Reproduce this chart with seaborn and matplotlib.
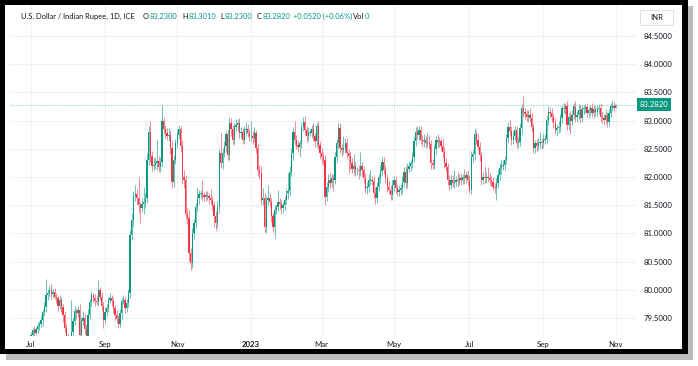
import numpy as np
import pandas as pd
import matplotlib
matplotlib.use("Agg")
import matplotlib.pyplot as plt
import seaborn as sns
from matplotlib.patches import Rectangle
from matplotlib.transforms import blended_transform_factory

# ---------------- data ----------------
start_date = "2022-07-01"
first_open = 79.10
closes = [
    79.20, 79.28, 79.24, 79.30, 79.36, 79.40, 79.46, 79.60, 79.70, 79.90,
    79.95, 80.00, 79.92, 79.96, 79.88, 79.85, 79.72, 79.82, 79.70, 79.55,
    79.32, 79.12, 78.90, 79.05, 79.25, 79.45, 79.62, 79.58, 79.64, 79.20,
    79.45, 79.50, 79.30, 79.10, 79.55, 79.78, 79.90, 79.86, 79.80, 79.78,
    80.00, 79.88, 79.72, 79.47, 79.60, 79.68, 79.82, 79.85, 79.80, 79.67,
    79.56, 79.48, 79.40, 79.58, 79.80, 79.82, 79.67, 79.76, 79.95, 80.98,
    81.24, 81.66, 81.70, 81.62, 81.50, 81.45, 81.52, 81.55, 81.62, 82.30,
    82.80, 82.38, 82.20, 82.22, 82.25, 82.28, 82.17, 82.27, 83.00, 82.85,
    82.78, 82.72, 82.75, 82.51, 81.92, 82.30, 82.60, 82.75, 82.85, 82.55,
    82.00, 81.95, 81.35, 81.27, 80.65, 80.47, 81.00, 81.18, 81.47, 81.62,
    81.70, 81.72, 81.68, 81.65, 81.68, 81.66, 81.62, 81.60, 81.50, 81.30,
    81.18, 81.47, 82.42, 82.24, 82.42, 82.55, 82.77, 82.39, 82.95, 82.85,
    82.66, 82.89, 82.92, 82.95, 82.78, 82.80, 82.66, 82.83, 82.85, 82.78,
    82.72, 82.72, 82.69, 82.78, 82.51, 82.13, 82.07, 81.59, 81.62, 81.12,
    81.59, 81.62, 81.55, 81.30, 81.12, 81.42, 81.47, 81.55, 81.53, 81.45,
    81.50, 81.59, 81.71, 81.75, 82.09, 82.42, 82.80, 82.66, 82.57, 82.54,
    82.60, 82.89, 82.98, 82.83, 82.72, 82.78, 82.78, 82.85, 82.72, 82.63,
    82.90, 82.57, 82.42, 82.36, 82.30, 81.65, 81.83, 81.95, 81.90, 81.98,
    81.95, 82.36, 82.60, 82.86, 82.51, 82.48, 82.52, 82.60, 82.42, 82.38,
    82.24, 82.15, 82.20, 82.12, 82.12, 82.10, 82.20, 82.12, 81.98, 81.80,
    81.83, 81.95, 81.95, 81.93, 81.72, 81.62, 81.83, 82.00, 82.10, 82.27,
    82.13, 81.98, 81.83, 81.77, 81.68, 81.86, 81.95, 81.80, 81.74, 81.77,
    81.80, 81.92, 82.09, 81.89, 82.15, 82.20, 82.24, 82.36, 82.63, 82.80,
    82.75, 82.83, 82.66, 82.63, 82.65, 82.60, 82.62, 82.58, 82.24, 82.22,
    82.50, 82.66, 82.62, 82.63, 82.55, 82.45, 82.24, 82.18, 81.95, 81.86,
    81.95, 81.89, 81.92, 81.95, 81.93, 81.98, 81.95, 82.00, 81.98, 82.04,
    81.95, 81.77, 82.36, 82.40, 82.77, 82.66, 82.54, 82.39, 81.95, 82.00,
    81.98, 82.00, 81.98, 81.95, 81.92, 81.83, 81.80, 81.89, 82.04, 82.16,
    82.20, 82.22, 82.30, 82.69, 82.89, 82.82, 82.66, 82.72, 82.83, 82.60,
    82.62, 82.86, 83.22, 83.15, 83.12, 83.07, 83.10, 83.05, 82.89, 82.51,
    82.60, 82.55, 82.60, 82.62, 82.60, 82.66, 82.68, 83.01, 83.16, 83.14,
    83.07, 82.95, 82.83, 82.86, 82.89, 83.04, 83.22, 83.20, 83.26, 82.92,
    83.07, 83.00, 83.10, 83.25, 83.07, 83.10, 83.19, 83.04, 83.20, 83.22,
    83.24, 83.13, 83.18, 83.22, 83.13, 83.20, 83.16, 83.20, 83.22, 83.07,
    83.04, 83.01, 83.10, 82.98, 83.13, 83.25, 83.26, 83.23, 83.282,
]
# upper / lower wick lengths in hundredths of a rupee
up_wick = [
    6, 5, 8, 4, 7, 5, 9, 6, 8, 29,   6, 7, 10, 5, 8, 6, 4, 9, 6, 5,
    7, 10, 12, 8, 57, 6, 9, 5, 8, 10,   7, 12, 8, 9, 11, 6, 8, 5, 7, 9,
    17, 5, 8, 6, 9, 7, 6, 9, 5, 8,   6, 9, 7, 8, 5, 9, 6, 8, 7, 8,
    12, 10, 15, 8, 38, 6, 10, 28, 9, 12,   10, 20, 8, 12, 10, 38, 9, 8, 28, 7,
    8, 9, 12, 6, 15, 9, 8, 10, 8, 6,   10, 12, 8, 10, 15, 9, 10, 8, 7, 21,
    7, 5, 23, 6, 8, 7, 5, 17, 6, 8,   9, 10, 8, 36, 10, 9, 5, 8, 12, 9,
    8, 6, 10, 7, 9, 8, 6, 8, 12, 9,   7, 28, 9, 10, 6, 8, 9, 12, 18, 10,
    8, 24, 9, 7, 8, 9, 6, 22, 8, 7,   6, 8, 9, 32, 10, 9, 8, 20, 9, 8,
    6, 9, 8, 10, 7, 9, 7, 8, 10, 6,   5, 9, 7, 10, 8, 9, 8, 10, 12, 7,
    8, 9, 8, 10, 9, 7, 20, 10, 9, 8,   7, 9, 20, 8, 6, 9, 25, 7, 8, 9,
    8, 10, 18, 7, 9, 10, 8, 6, 9, 8,   9, 8, 7, 10, 8, 9, 7, 6, 8, 9,
    7, 9, 8, 10, 9, 8, 7, 9, 8, 8,   10, 8, 7, 9, 12, 8, 16, 12, 7, 8,
    9, 7, 10, 8, 6, 12, 8, 9, 7, 8,   9, 8, 21, 7, 14, 8, 9, 6, 14, 7,
    8, 9, 10, 8, 9, 7, 10, 8, 6, 9,   20, 8, 17, 9, 7, 8, 6, 9, 10, 8,
    12, 9, 8, 7, 8, 12, 9, 10, 8, 7,   9, 10, 8, 21, 7, 6, 8, 12, 8, 7,
    6, 8, 9, 18, 8, 12, 9, 8, 10, 9,   8, 7, 9, 8, 10, 8, 6, 10, 6, 8,
    7, 10, 8, 6, 9, 7, 10, 8, 8, 6,   5, 8, 7, 6, 9, 7, 6, 8, 7, 9,
    8, 7, 10, 6, 8, 6, 9, 7, 2,
]
dn_wick = [
    8, 6, 9, 5, 7, 8, 6, 10, 7, 9,   8, 6, 9, 7, 5, 8, 10, 6, 9, 12,
    8, 10, 12, 9, 14, 7, 8, 10, 6, 9,   11, 8, 9, 12, 10, 7, 6, 8, 9, 5,
    7, 6, 9, 14, 8, 6, 7, 5, 9, 8,   10, 7, 8, 6, 9, 5, 8, 7, 6, 10,
    9, 12, 8, 10, 14, 27, 7, 18, 10, 8,   9, 12, 10, 8, 7, 12, 9, 8, 10, 9,
    8, 6, 9, 11, 12, 10, 7, 9, 8, 10,   12, 15, 9, 10, 14, 12, 8, 10, 9, 7,
    10, 8, 9, 7, 8, 6, 9, 10, 8, 18,   12, 9, 10, 8, 9, 7, 10, 8, 9, 12,
    8, 9, 7, 10, 8, 9, 6, 8, 9, 7,   8, 9, 10, 7, 9, 12, 10, 8, 9, 10,
    12, 9, 8, 10, 9, 21, 8, 7, 9, 10,   8, 9, 7, 10, 9, 8, 12, 9, 8, 10,
    18, 8, 7, 9, 10, 8, 6, 9, 8, 10,   9, 8, 10, 12, 9, 14, 8, 10, 9, 7,
    19, 8, 10, 9, 8, 10, 8, 9, 10, 31,   9, 8, 12, 10, 9, 14, 8, 10, 9, 8,
    10, 9, 9, 8, 10, 9, 8, 7, 10, 9,   8, 9, 10, 7, 9, 8, 10, 9, 8, 7,
    9, 8, 10, 9, 8, 7, 9, 8, 10, 8,   7, 9, 8, 10, 9, 8, 7, 9, 10, 8,
    8, 9, 10, 8, 9, 12, 8, 9, 10, 9,   8, 7, 9, 8, 10, 7, 9, 8, 10, 9,
    9, 5, 8, 10, 9, 8, 7, 10, 9, 8,   8, 9, 7, 10, 8, 6, 9, 21, 8, 9,
    10, 8, 9, 7, 8, 9, 10, 8, 7, 9,   8, 7, 9, 8, 10, 7, 9, 8, 9, 9,
    8, 9, 7, 8, 10, 9, 8, 7, 9, 10,   9, 8, 7, 10, 8, 9, 8, 7, 9, 8,
    9, 23, 8, 7, 9, 10, 8, 9, 7, 8,   8, 7, 9, 8, 7, 9, 8, 7, 8, 9,
    8, 9, 7, 10, 8, 7, 8, 6, 0,
]

month_labels = ["Jul", "Sep", "Nov", "2023", "Mar", "May", "Jul", "Sep", "Nov"]
month_dates = ["2022-07-01", "2022-09-01", "2022-11-01", "2023-01-02", "2023-03-01",
               "2023-05-01", "2023-07-03", "2023-09-01", "2023-11-01"]
price_ticks = [79.5, 80.0, 80.5, 81.0, 81.5, 82.0, 82.5, 83.0, 83.5, 84.0, 84.5]
last_price = 83.282

title_text = "U.S. Dollar / Indian Rupee, 1D, ICE"
ohlc_letters = ["O", "H", "L", "C"]
ohlc_values = ["83.2300", "83.3010", "83.2300", "83.2820"]
change_text = "+0.0520 (+0.06%)"
currency = "INR"

# ---------------- frame ----------------
n = len(closes)
dates = pd.bdate_range(start_date, periods=n)
opens = [first_open] + closes[:-1]
df = pd.DataFrame({"date": dates, "open": opens, "close": closes})
df["pos"] = np.arange(n)
df["high"] = np.maximum(df["open"], df["close"]) + np.array(up_wick[:n]) / 100
df["low"] = np.minimum(df["open"], df["close"]) - np.array(dn_wick[:n]) / 100
df["up"] = df["close"] >= df["open"]

UP = "#089981"
DOWN = "#f23645"
UP_W = "#6cc2b5"
DOWN_W = "#f48a94"
TXT = "#131722"
FS = 5.6
HFS = 5.4

sns.set_theme(style="white")
plt.rcParams["font.family"] = ["Lato", "DejaVu Sans"]

W, H = 698, 366
fig = plt.figure(figsize=(W / 100, H / 100), dpi=100)
fig.patch.set_facecolor("white")

# pane geometry (pixels)
L, R, T, B = 10, 636, 5, 336
ax = fig.add_axes([L / W, 1 - B / H, (R - L) / W, (B - T) / H])
ax.set_facecolor("white")

px_per_bar = 1.68
x0_px = 31
ax.set_xlim((L - x0_px) / px_per_bar, (R - x0_px) / px_per_bar)
y_per_px = 0.5 / 28.2
ax.set_ylim(84.5 - (B - 36) * y_per_px, 84.5 + (36 - T) * y_per_px)

# grid
ax.set_yticks(price_ticks)
tick_pos = [int(np.searchsorted(df["date"].values, np.datetime64(d))) for d in month_dates]
ax.set_xticks(tick_pos)
ax.set_xticklabels(month_labels)
ax.grid(True, color="#eff1f6", linewidth=0.8)
ax.set_axisbelow(True)

# candles
wick_cols = np.where(df["up"], UP_W, DOWN_W)
body_cols = np.where(df["up"], UP, DOWN)
ax.vlines(df["pos"], df["low"], df["high"], colors=wick_cols, linewidth=0.7, zorder=2)
body_h = np.maximum((df["close"] - df["open"]).abs(), 0.01)
ax.bar(df["pos"], body_h, bottom=np.minimum(df["open"], df["close"]),
       width=0.78, color=body_cols, linewidth=0, zorder=3)

# last price dotted line
ax.axhline(last_price, color=UP, linewidth=0.8, linestyle=(0, (1, 1.2)), alpha=0.45, zorder=1)

# axes styling
for s in ax.spines.values():
    s.set_visible(False)
ax.yaxis.tick_right()
ax.yaxis.set_major_formatter(matplotlib.ticker.FormatStrFormatter("%.4f"))
ax.tick_params(axis="y", length=0, pad=5.5, labelsize=FS, labelcolor=TXT)
ax.tick_params(axis="x", length=0, pad=3.5, labelsize=FS, labelcolor=TXT)
for lab in ax.get_xticklabels():
    if lab.get_text() == "2023":
        lab.set_fontweight("bold")

# last price label
tr = blended_transform_factory(ax.transAxes, ax.transData)
ax.text((640 - L) / (R - L), last_price, f"{last_price:.4f}", transform=tr,
        ha="left", va="center", fontsize=FS, color="white", zorder=6, clip_on=False,
        bbox=dict(boxstyle="square,pad=0.35", fc=UP, ec="none"))

# header legend
def fx(px):
    return px / W

def fy(py):
    return 1 - py / H

renderer = fig.canvas.get_renderer()

def text_right_px(t):
    bb = t.get_window_extent(renderer=renderer)
    return bb.x1

hy = fy(16.5)
fig.text(fx(21), hy, title_text, fontsize=HFS, color=TXT, va="center", ha="left")
for xp, let, val in zip([143, 182, 220, 257], ohlc_letters, ohlc_values):
    tl = fig.text(fx(xp), hy, let, fontsize=HFS, color=TXT, va="center", ha="left")
    fig.text(fx(text_right_px(tl) + 0.6), hy, val, fontsize=HFS, color=UP, va="center", ha="left")
fig.text(fx(293), hy, change_text, fontsize=HFS, color=UP, va="center", ha="left")
tv = fig.text(fx(353), hy, "Vol", fontsize=HFS, color=TXT, va="center", ha="left")
fig.text(fx(text_right_px(tv) + 0.6), hy, "0", fontsize=HFS, color=UP, va="center", ha="left")

# INR box
def px_rect(x0, y0, x1, y1, fc, ec="none", lw=0, z=10):
    fig.add_artist(Rectangle((x0 / W, 1 - y1 / H), (x1 - x0) / W, (y1 - y0) / H,
                             transform=fig.transFigure, facecolor=fc, edgecolor=ec,
                             linewidth=lw, zorder=z))

px_rect(640, 10, 673, 25, "white", ec="#d6d9e0", lw=0.6)
fig.text(fx(656.5), fy(17.5), currency, fontsize=FS, color=TXT, ha="center", va="center", zorder=11)

# screenshot frame + shadow
px_rect(688, 6, 693, 360, "#bdbdbd")
px_rect(6, 354, 693, 360, "#bdbdbd")
px_rect(0, 0, 688, 5, "black")
px_rect(0, 349, 688, 354, "black")
px_rect(0, 0, 5, 354, "black")
px_rect(682, 0, 688, 354, "black")

fig.savefig("out.png", dpi=100, facecolor="white")
